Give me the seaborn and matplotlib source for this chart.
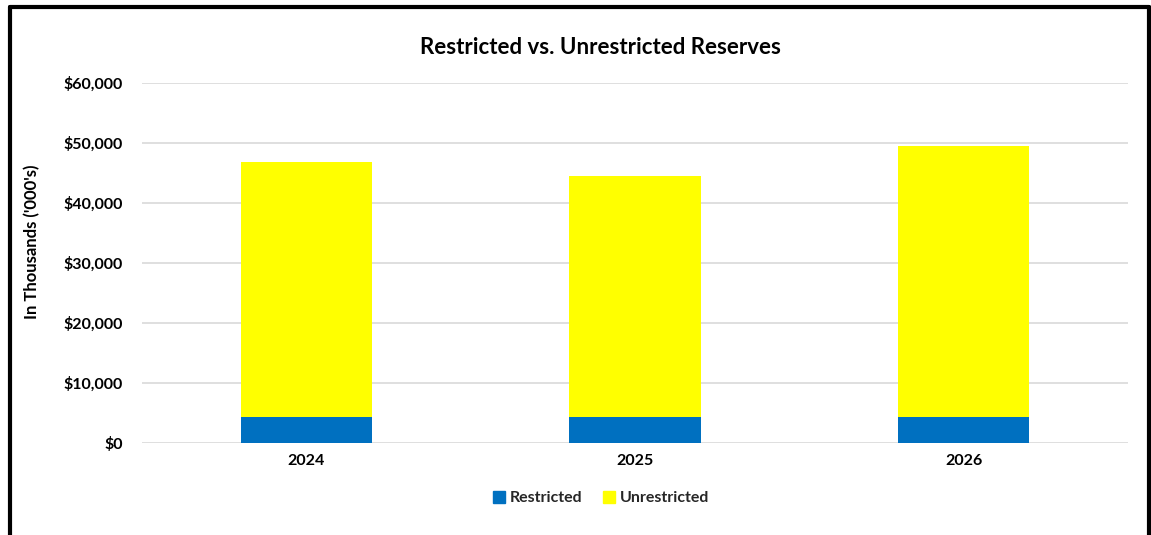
import matplotlib
matplotlib.use("Agg")
import matplotlib.pyplot as plt
import matplotlib.patches as mpatches
from matplotlib.ticker import FuncFormatter
import seaborn as sns
import pandas as pd

years = ["2024", "2025", "2026"]
restricted = [4250, 4250, 4250]
unrestricted = [42630, 40250, 45300]

BLUE = "#0070C0"
YELLOW = "#FFFF00"

sns.set_theme(style="white")
plt.rcParams["font.family"] = ["Lato", "DejaVu Sans"]

df = pd.DataFrame({"year": years, "restricted": restricted, "unrestricted": unrestricted})
df["total"] = df["restricted"] + df["unrestricted"]

fig = plt.figure(figsize=(11.51, 5.35), dpi=100)
ax = fig.add_axes([0.1234, 0.172, 0.980 - 0.1234, 0.845 - 0.172])

# stacked bars: full height in yellow, restricted portion over it in blue
sns.barplot(data=df, x="year", y="total", color=YELLOW, width=0.4, ax=ax,
            saturation=1, edgecolor="none")
sns.barplot(data=df, x="year", y="restricted", color=BLUE, width=0.4, ax=ax,
            saturation=1, edgecolor="none")

ax.set_ylim(0, 60000)
ax.set_yticks(range(0, 60001, 10000))
ax.yaxis.set_major_formatter(FuncFormatter(lambda v, p: f"${int(v):,}"))
ax.grid(axis="y", color="#d9d9d9", linewidth=1.2)
ax.set_axisbelow(True)
for s in ax.spines.values():
    s.set_visible(False)
ax.tick_params(axis="both", length=0, labelsize=11.5, pad=8)
for lbl in ax.get_xticklabels() + ax.get_yticklabels():
    lbl.set_fontweight("bold")
    lbl.set_color("black")
ax.tick_params(axis="y", pad=14)
ax.set_xlabel("")
ax.set_ylabel("In Thousands ('000's)", fontsize=12, fontweight="bold", color="black")
ax.yaxis.set_label_coords(-0.103, 0.56)

fig.text(0.522, 0.912, "Restricted vs. Unrestricted Reserves", ha="center", va="center",
         fontsize=16, fontweight="bold", color="black")

handles = [mpatches.Patch(color=BLUE, label="Restricted"),
           mpatches.Patch(color=YELLOW, label="Unrestricted")]
leg = fig.legend(handles=handles, loc="center", bbox_to_anchor=(0.522, 0.069), ncol=2,
                 frameon=False, handlelength=0.75, handleheight=0.75, handletextpad=0.3,
                 columnspacing=1.3, prop={"weight": "bold", "size": 11.5})

# outer frame of the chart
fig.add_artist(plt.Line2D([0.0083, 0.0083], [0, 0.986], color="black", linewidth=3,
                          transform=fig.transFigure))
fig.add_artist(plt.Line2D([0.0083, 0.998], [0.986, 0.986], color="black", linewidth=3,
                          transform=fig.transFigure))
fig.add_artist(plt.Line2D([0.998, 0.998], [0, 0.986], color="black", linewidth=3,
                          transform=fig.transFigure))

fig.savefig("out.png", dpi=100, facecolor="white")
